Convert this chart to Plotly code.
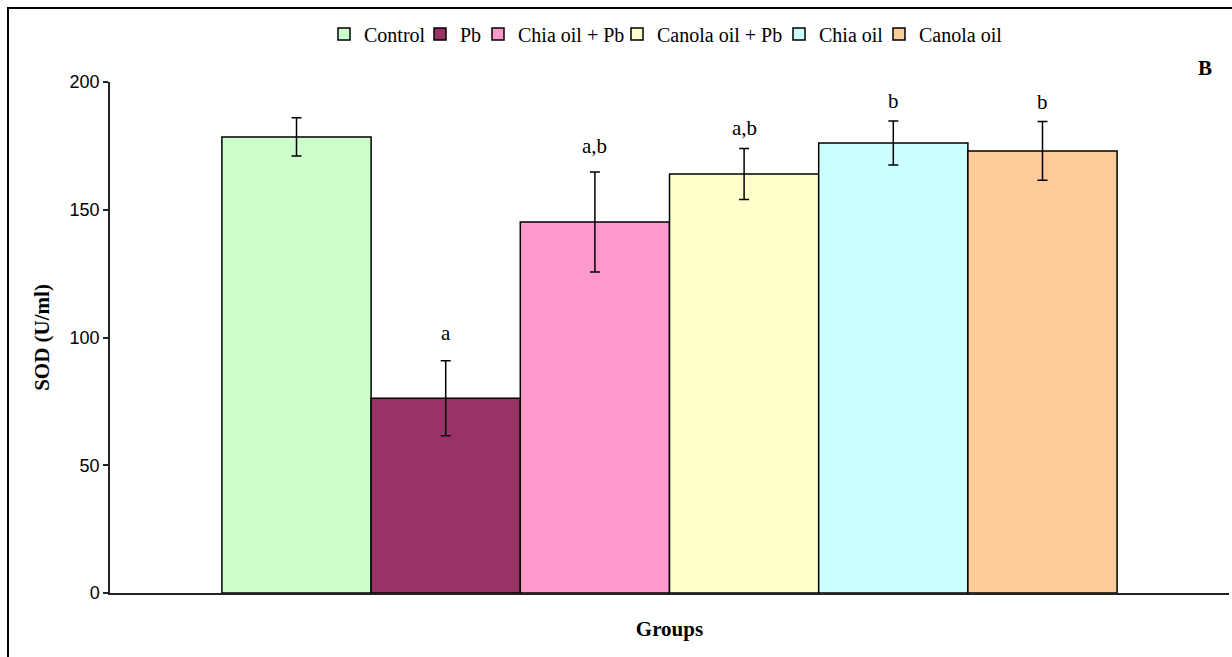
import plotly.graph_objects as go

# SOD activity per treatment group (mean ± SD)
groups = ["Control", "Pb", "Chia oil + Pb", "Canola oil + Pb", "Chia oil", "Canola oil"]
sod_mean = [178.5, 76.2, 145.2, 164.0, 176.1, 173.0]
sod_sd = [7.5, 14.7, 19.6, 10.0, 8.6, 11.5]
sig_labels = ["", "a", "a,b", "a,b", "b", "b"]
colors = ["#CCFFCC", "#993366", "#FF99CC", "#FFFFCC", "#CCFFFF", "#FFCC99"]
y_ticks = [0, 50, 100, 150, 200]

serif = "Liberation Serif, Times New Roman, serif"
sans = "Liberation Sans, Arial, sans-serif"

W, H = 1232, 657
ML, MR, MT, MB = 110, 3, 82, 64
plot_w = W - ML - MR
plot_h = H - MT - MB

# one single-entry legend per group so the key entries sit packed in a row
legend_left_px = [338, 434, 492, 631, 793, 893]
legend_ids = ["legend"] + [f"legend{i}" for i in range(2, len(groups) + 1)]

fig = go.Figure()
for name, m, sd, c, lid in zip(groups, sod_mean, sod_sd, colors, legend_ids):
    fig.add_trace(go.Bar(
        x=["Groups"], y=[m], name=name, legend=lid,
        marker=dict(color=c, line=dict(color="black", width=1.5)),
        error_y=dict(type="data", array=[sd], visible=True,
                     color="black", thickness=1.5, width=5),
    ))

legend_layout = {}
for lid, px in zip(legend_ids, legend_left_px):
    legend_layout[lid] = dict(
        orientation="h", x=(px - 14 - ML) / plot_w, xanchor="left",
        y=(H - MB - 34) / plot_h, yanchor="middle",
        font=dict(family=serif, size=20, color="black"),
        itemwidth=30, bgcolor="rgba(0,0,0,0)", borderwidth=0,
    )

# significance letters above the error bars
label_shift = [0, 14, 12, 6, 6, 6]
n = len(groups)
for i, (lab, m, sd) in enumerate(zip(sig_labels, sod_mean, sod_sd)):
    if not lab:
        continue
    fig.add_annotation(
        x=(i - (n - 1) / 2) * 0.8 / n, xref="x", y=m + sd, yref="y",
        text=lab, showarrow=False, yanchor="bottom", yshift=label_shift[i],
        font=dict(family=serif, size=21, color="black"),
    )

fig.add_annotation(
    x=(1205 - ML) / plot_w, xref="paper", y=(H - MB - 68) / plot_h,
    yref="paper", xanchor="center", yanchor="middle",
    text="<b>B</b>", showarrow=False,
    font=dict(family=serif, size=21, color="black"),
)

# outer frame around the chart
fig.add_shape(type="rect", xref="paper", yref="paper",
              x0=(8 - ML) / plot_w, x1=1.1, y0=-0.3,
              y1=(H - MB - 8) / plot_h,
              line=dict(color="black", width=2), layer="above")

fig.update_layout(
    width=W, height=H,
    margin=dict(l=ML, r=MR, t=MT, b=MB),
    paper_bgcolor="white", plot_bgcolor="white",
    barmode="group", bargap=0.2, bargroupgap=0,
    showlegend=True,
    xaxis=dict(type="category", range=[-0.5, 0.5], showticklabels=False,
               ticks="", showline=True, linecolor="#222", linewidth=1.5,
               title=dict(text="<b>Groups</b>", standoff=28,
                          font=dict(family=serif, size=21, color="black"))),
    yaxis=dict(range=[0, 200], tickvals=y_ticks, ticks="outside", ticklen=5,
               tickwidth=1.5, tickcolor="#222", showline=True, linecolor="#222",
               linewidth=1.5, showgrid=False, zeroline=False,
               tickfont=dict(family=sans, size=18, color="black"),
               title=dict(text="<b>SOD (U/ml)</b>", standoff=14,
                          font=dict(family=serif, size=21, color="black"))),
    **legend_layout,
)

fig.write_html("out.html")
